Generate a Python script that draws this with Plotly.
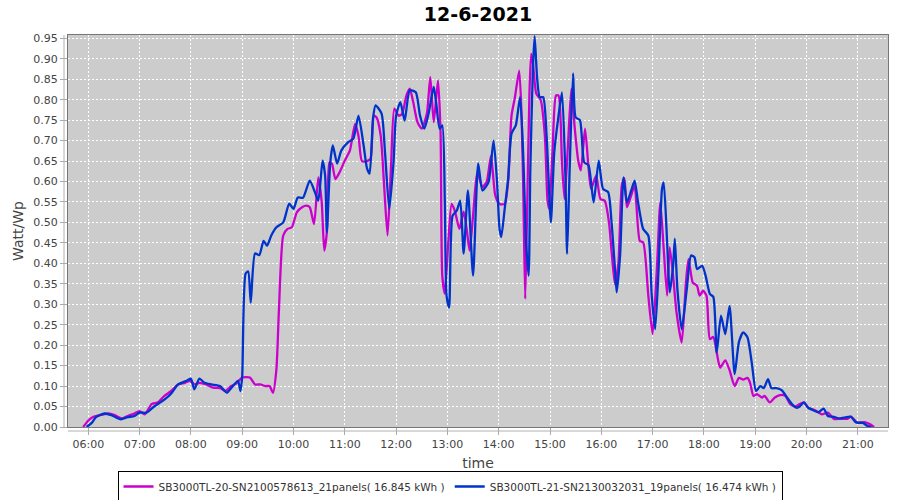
import plotly.graph_objects as go

DAY = "2021-06-12 "

s1_name = "SB3000TL-20-SN2100578613_21panels( 16.845 kWh )"
s1_times = ["05:54","06:00","06:05","06:13","06:23","06:31","06:39","06:46","06:54","07:00","07:06","07:14","07:21","07:29","07:37","07:45","07:53","07:59","08:04","08:10","08:18","08:26","08:34","08:40","08:47","08:53","09:00","09:09","09:15","09:21","09:27","09:32","09:36","09:40","09:43","09:48","09:53","09:58","10:04","10:10","10:15","10:19","10:24","10:29","10:33","10:36","10:39","10:42","10:45","10:49","10:54","11:00","11:06","11:12","11:16","11:20","11:26","11:30","11:34","11:37","11:42","11:46","11:50","11:54","11:58","12:03","12:07","12:12","12:16","12:20","12:25","12:30","12:36","12:40","12:44","12:49","12:52","12:54","12:57","13:01","13:05","13:09","13:14","13:19","13:23","13:26","13:30","13:35","13:41","13:46","13:51","13:56","14:01","14:07","14:11","14:15","14:19","14:24","14:27","14:29","14:31","14:33","14:36","14:38","14:40","14:44","14:49","14:54","14:57","14:59","15:03","15:07","15:10","15:14","15:17","15:21","15:25","15:29","15:33","15:36","15:41","15:45","15:48","15:54","15:59","16:04","16:09","16:12","16:16","16:20","16:24","16:27","16:30","16:35","16:39","16:45","16:49","16:55","17:00","17:05","17:09","17:13","17:17","17:20","17:24","17:28","17:34","17:39","17:42","17:47","17:52","17:55","17:59","18:03","18:07","18:11","18:15","18:19","18:25","18:30","18:36","18:41","18:46","18:51","18:54","18:58","19:02","19:08","19:11","19:17","19:23","19:29","19:35","19:41","19:47","19:52","19:57","20:02","20:10","20:18","20:25","20:32","20:40","20:48","20:52","21:00","21:08","21:14","21:19"]
s1_values = [0.0,0.016,0.024,0.029,0.033,0.029,0.021,0.027,0.033,0.039,0.031,0.056,0.060,0.076,0.088,0.104,0.108,0.113,0.104,0.108,0.104,0.096,0.095,0.088,0.100,0.106,0.121,0.121,0.104,0.104,0.100,0.100,0.084,0.141,0.288,0.468,0.484,0.488,0.525,0.537,0.541,0.537,0.496,0.610,0.549,0.431,0.476,0.647,0.643,0.606,0.623,0.651,0.676,0.741,0.712,0.650,0.650,0.655,0.761,0.757,0.712,0.590,0.468,0.632,0.778,0.761,0.765,0.810,0.827,0.794,0.745,0.729,0.766,0.855,0.745,0.847,0.720,0.370,0.326,0.450,0.545,0.526,0.484,0.526,0.476,0.431,0.516,0.623,0.586,0.600,0.663,0.566,0.545,0.545,0.598,0.761,0.806,0.871,0.745,0.549,0.313,0.500,0.818,0.912,0.890,0.814,0.800,0.712,0.557,0.533,0.676,0.810,0.810,0.647,0.557,0.688,0.827,0.729,0.651,0.627,0.729,0.635,0.582,0.614,0.557,0.553,0.500,0.430,0.349,0.400,0.590,0.608,0.537,0.566,0.590,0.455,0.451,0.321,0.227,0.386,0.549,0.435,0.321,0.439,0.370,0.280,0.206,0.353,0.410,0.353,0.345,0.321,0.333,0.321,0.215,0.220,0.182,0.145,0.163,0.139,0.100,0.120,0.116,0.120,0.108,0.076,0.080,0.072,0.076,0.060,0.072,0.078,0.076,0.056,0.050,0.056,0.060,0.047,0.041,0.031,0.035,0.020,0.020,0.020,0.025,0.010,0.012,0.007,0.000]

s2_name = "SB3000TL-21-SN2130032031_19panels( 16.474 kWh )"
s2_times = ["05:58","06:04","06:09","06:19","06:27","06:38","06:46","06:54","07:00","07:08","07:17","07:29","07:37","07:45","07:55","08:00","08:04","08:10","08:16","08:24","08:34","08:42","08:47","08:55","08:58","09:00","09:04","09:07","09:10","09:15","09:20","09:25","09:29","09:34","09:40","09:48","09:55","10:00","10:05","10:11","10:19","10:25","10:29","10:34","10:37","10:39","10:43","10:46","10:51","10:56","11:04","11:10","11:16","11:22","11:26","11:29","11:33","11:36","11:43","11:47","11:52","11:57","12:00","12:05","12:10","12:16","12:23","12:28","12:33","12:38","12:44","12:47","12:51","12:54","12:57","12:59","13:02","13:06","13:11","13:15","13:19","13:24","13:30","13:36","13:41","13:48","13:54","13:58","14:01","14:03","14:07","14:11","14:15","14:20","14:25","14:29","14:32","14:35","14:37","14:40","14:42","14:45","14:48","14:52","14:56","15:01","15:05","15:10","15:14","15:18","15:20","15:23","15:27","15:30","15:35","15:40","15:45","15:51","15:57","16:02","16:08","16:12","16:16","16:18","16:22","16:26","16:30","16:35","16:39","16:43","16:49","16:55","16:59","17:03","17:07","17:11","17:13","17:17","17:20","17:24","17:26","17:29","17:34","17:40","17:45","17:49","17:52","17:58","18:02","18:07","18:11","18:15","18:20","18:25","18:30","18:36","18:41","18:46","18:51","18:56","19:01","19:06","19:10","19:15","19:19","19:25","19:31","19:36","19:43","19:49","19:52","19:57","20:02","20:08","20:14","20:20","20:25","20:32","20:38","20:44","20:52","20:58","21:06","21:11","21:16"]
s2_values = [0.0,0.010,0.024,0.033,0.029,0.019,0.024,0.027,0.035,0.035,0.050,0.067,0.082,0.104,0.113,0.118,0.092,0.118,0.108,0.104,0.100,0.084,0.095,0.113,0.088,0.124,0.375,0.380,0.304,0.424,0.420,0.455,0.443,0.468,0.488,0.500,0.546,0.533,0.561,0.560,0.602,0.574,0.553,0.651,0.614,0.476,0.647,0.688,0.644,0.676,0.696,0.705,0.761,0.688,0.632,0.619,0.754,0.786,0.766,0.672,0.533,0.647,0.761,0.794,0.749,0.823,0.818,0.761,0.729,0.766,0.831,0.790,0.729,0.737,0.549,0.321,0.292,0.516,0.529,0.553,0.424,0.578,0.370,0.644,0.578,0.598,0.700,0.600,0.484,0.464,0.533,0.606,0.717,0.737,0.806,0.647,0.451,0.370,0.630,0.876,0.955,0.851,0.806,0.806,0.712,0.500,0.672,0.761,0.818,0.614,0.423,0.630,0.864,0.757,0.750,0.647,0.640,0.549,0.651,0.582,0.574,0.500,0.386,0.329,0.420,0.610,0.549,0.578,0.602,0.549,0.484,0.468,0.321,0.239,0.386,0.582,0.598,0.451,0.329,0.394,0.460,0.337,0.239,0.337,0.419,0.415,0.386,0.394,0.370,0.325,0.318,0.182,0.272,0.227,0.296,0.129,0.208,0.231,0.219,0.157,0.088,0.100,0.095,0.117,0.095,0.095,0.090,0.076,0.056,0.047,0.050,0.060,0.047,0.041,0.036,0.045,0.027,0.025,0.021,0.023,0.025,0.011,0.010,0.003,0.000]

title_text = "12-6-2021"
x_title = "time"
y_title = "Watt/Wp"
c1 = "#cc00cc"
c2 = "#0033cc"

FONT = "DejaVu Sans"

fig = go.Figure()
for name, times, vals, col in [(s1_name, s1_times, s1_values, c1), (s2_name, s2_times, s2_values, c2)]:
    fig.add_trace(go.Scatter(
        x=[DAY + t for t in times], y=vals, name=name, mode="lines",
        line=dict(color=col, width=2.3, shape="spline", smoothing=0.6),
    ))

W, H = 900, 500
ml, mr, mt, mb = 68, 12, 35, 73
pw = W - ml - mr
ph = H - mt - mb

fig.update_layout(
    width=W, height=H,
    margin=dict(l=ml, r=mr, t=mt, b=mb, autoexpand=False),
    paper_bgcolor="white", plot_bgcolor="#cccccc",
    font=dict(family=FONT, size=11, color="#444444"),
    title=dict(text="<b>" + title_text + "</b>", x=0.5, xanchor="center",
               xref="paper", y=1 - 14 / H, yanchor="middle", automargin=False,
               font=dict(family=FONT, size=19, color="black")),
    showlegend=True,
    legend=dict(orientation="h", xref="container", yref="container",
                x=0.5, xanchor="center", y=1 - 471 / H, yanchor="top",
                bordercolor="black", borderwidth=1, bgcolor="white",
                font=dict(family=FONT, size=10.5, color="#333333"),
                itemwidth=30, tracegroupgap=0),
    xaxis=dict(
        type="date", automargin=False,
        range=[DAY + "05:36:15", DAY + "21:35:20"],
        dtick=3600000, tick0=DAY + "06:00", tickformat="%H:%M",
        showgrid=True, gridcolor="white", griddash="2px,2px", gridwidth=1,
        showline=True, linecolor="#777777", linewidth=1, mirror=True,
        ticks="outside", ticklen=7, tickcolor="#aaaaaa",
        tickfont=dict(family=FONT, size=11, color="#444444"),
        title=dict(text=x_title, font=dict(family=FONT, size=14, color="#444444"), standoff=8),
        zeroline=False,
    ),
    yaxis=dict(
        automargin=False,
        range=[0, 0.958], dtick=0.05, tick0=0, tickformat=".2f",
        showgrid=True, gridcolor="white", griddash="2px,2px", gridwidth=1,
        showline=True, linecolor="#777777", linewidth=1, mirror=True,
        ticks="outside", ticklen=7, tickcolor="#aaaaaa",
        tickfont=dict(family=FONT, size=11, color="#444444"),
        title=dict(text=y_title, font=dict(family=FONT, size=14, color="#444444"), standoff=6),
        zeroline=False,
    ),
)

# offset light-gray axis lines (as in the original renderer)
fig.add_shape(type="line", xref="paper", yref="paper", x0=-4 / pw, x1=-4 / pw, y0=0, y1=1,
              line=dict(color="#b0b0b0", width=1))
fig.add_shape(type="line", xref="paper", yref="paper", x0=0, x1=1, y0=-4 / ph, y1=-4 / ph,
              line=dict(color="#b0b0b0", width=1))

fig.write_html("out.html", config={"displayModeBar": False},
               post_script="document.body.style.margin='0';document.body.style.overflow='hidden';")
